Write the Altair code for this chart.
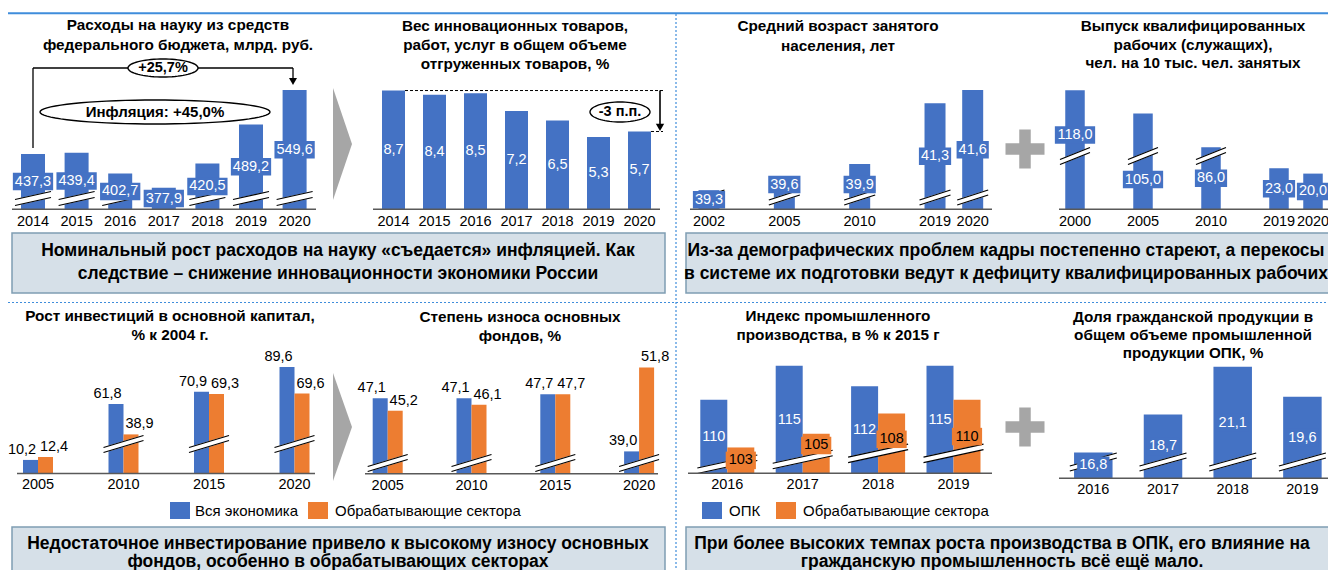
import math
import numpy as np
import pandas as pd
import altair as alt

# ------------------------------------------------------------------ data
science_years = ["2014", "2015", "2016", "2017", "2018", "2019", "2020"]
science_budget = [437.3, 439.4, 402.7, 377.9, 420.5, 489.2, 549.6]
innov_years = ["2014", "2015", "2016", "2017", "2018", "2019", "2020"]
innov_share = [8.7, 8.4, 8.5, 7.2, 6.5, 5.3, 5.7]
age_years = ["2002", "2005", "2010", "2019", "2020"]
age_values = [39.3, 39.6, 39.9, 41.3, 41.6]
grad_years = ["2000", "2005", "2010", "2019", "2020"]
grad_values = [118.0, 105.0, 86.0, 23.0, 20.0]
invest_years = ["2005", "2010", "2015", "2020"]
invest_total = [10.2, 61.8, 70.9, 89.6]
invest_manuf = [12.4, 38.9, 69.3, 69.6]
wear_years = ["2005", "2010", "2015", "2020"]
wear_total = [47.1, 47.1, 47.7, 39.0]
wear_manuf = [45.2, 46.1, 47.7, 51.8]
prod_years = ["2016", "2017", "2018", "2019"]
prod_opk = [110, 115, 112, 115]
prod_manuf = [103, 105, 108, 110]
civil_years = ["2016", "2017", "2018", "2019"]
civil_share = [16.8, 18.7, 21.1, 19.6]

legend_invest = ["Вся экономика", "Обрабатывающие сектора"]
legend_prod = ["ОПК", "Обрабатывающие сектора"]

title_science = ["Расходы на науку из средств", "федерального бюджета, млрд. руб."]
title_innov = ["Вес инновационных товаров,", "работ, услуг в общем объеме", "отгруженных товаров, %"]
title_age = ["Средний возраст занятого", "населения, лет"]
title_grad = ["Выпуск квалифицированных", "рабочих (служащих),", "чел. на 10 тыс. чел. занятых"]
title_invest = ["Рост инвестиций в основной капитал,", "% к 2004 г."]
title_wear = ["Степень износа основных", "фондов, %"]
title_prod = ["Индекс промышленного", "производства, в % к 2015 г"]
title_civil = ["Доля гражданской продукции в", "общем объеме промышленной", "продукции ОПК, %"]

note_1 = ["Номинальный рост расходов на науку «съедается» инфляцией. Как",
          "следствие – снижение инновационности экономики России"]
note_2 = ["Из-за демографических проблем кадры постепенно стареют, а перекосы",
          "в системе их подготовки ведут к дефициту квалифицированных рабочих"]
note_3 = ["Недостаточное инвестирование привело к высокому износу основных",
          "фондов, особенно в обрабатывающих секторах"]
note_4 = ["При более высоких темпах роста производства в ОПК, его влияние на",
          "гражданскую промышленность всё ещё мало."]

callout_growth = "+25,7%"
callout_inflation = "Инфляция: +45,0%"
callout_drop = "-3 п.п."

# ------------------------------------------------------------------ style
FONT = "Liberation Sans"
BLUE = "#4472c4"
ORANGE = "#ed7d31"
AXIS = "#595959"
SEP = "#3f8ddb"
NOTE_FILL = "#d6e0e8"
NOTE_STROKE = "#7f9db3"
GREY = "#a6a6a6"
OX, OY = 8, 8
VAL_FS = 14.5
TITLE_FS = 15.3
NOTE_FS = 17.5
BOX_H = 17.5
DUMMY = pd.DataFrame({"d": [0]})


def fmt(v, digits=1):
    return f"{v:.{digits}f}".replace(".", ",")


def text_w(s, fs=VAL_FS):
    return sum(0.278 if ch in ",." else 0.556 for ch in s) * fs


class Panel:
    def __init__(self, c0, step, base, k, baseline):
        self.c0, self.step, self.base, self.k, self.baseline = c0, step, base, k, baseline
        self.xs = alt.Scale(domain=[0, 1], range=[c0 - OX, c0 + step - OX], nice=False, zero=False)
        self.ys = alt.Scale(domain=[base, base + 1], range=[baseline - OY, baseline - k - OY],
                            nice=False, zero=False)

    def X(self, f):
        return alt.X(f + ":Q", scale=self.xs, axis=None)

    def Y(self, f):
        return alt.Y(f + ":Q", scale=self.ys, axis=None)

    def xu(self, px):
        return px / self.step

    def yv(self, py):
        return self.base + (self.baseline - py) / self.k

    def ypx(self, v):
        return self.baseline - (v - self.base) * self.k


def bar_layer(P, df, color):
    return alt.Chart(df).mark_bar(color=color).encode(
        x=P.X("x0"), x2=alt.X2("x1"), y=P.Y("d"), y2=alt.Y2("yb"))


def break_layers(P, df, width, rise, gap):
    enc = dict(x=P.X("bpos"), x2=alt.X2("bpos"), y=P.Y("brk"), y2=alt.Y2("brk"))
    h, r, g = width / 2, rise / 2, gap / 2
    out = [alt.Chart(df).mark_rule(color="white", strokeWidth=gap + 0.6, strokeCap="butt",
                                   xOffset=-h, x2Offset=h, yOffset=r, y2Offset=-r).encode(**enc)]
    for s in (-1, 1):
        out.append(alt.Chart(df).mark_rule(color="black", strokeWidth=1.2, strokeCap="butt",
                                           xOffset=-h, x2Offset=h, yOffset=r + s * g,
                                           y2Offset=-r + s * g).encode(**enc))
    return out


def add_boxes(P, df, xcol, extra=4):
    bw = np.array([text_w(t) + extra for t in df["txt"]])
    df["bx0"] = df[xcol].to_numpy() - bw / 2 / P.step
    df["bx1"] = df[xcol].to_numpy() + bw / 2 / P.step
    df["by0"] = df["lab"] - (BOX_H / 2) / P.k
    df["by1"] = df["lab"] + (BOX_H / 2) / P.k
    return df


def box_layer(P, df, color):
    return alt.Chart(df).mark_rect(color=color).encode(
        x=P.X("bx0"), x2=alt.X2("bx1"), y=P.Y("by0"), y2=alt.Y2("by1"))


def text_layer(P, df, xf, yf, tf, color, dx=0, dy=0, baseline="middle", size=VAL_FS):
    return alt.Chart(df).mark_text(font=FONT, fontSize=size, color=color, dx=dx, dy=dy,
                                   baseline=baseline, align="center").encode(
        x=P.X(xf), y=P.Y(yf), text=alt.Text(tf + ":N"))


def base_layer(P, x_from, x_to):
    d = pd.DataFrame({"yb": [P.base]})
    return alt.Chart(d).mark_rule(color=AXIS, strokeWidth=1.6).encode(
        x=alt.value(x_from - OX), x2=alt.value(x_to - OX), y=P.Y("yb"))


# ---------------------------------------------------------- decorations
def v_rect(x0, y0, x1, y1, **kw):
    return alt.Chart(DUMMY).mark_rect(**kw).encode(
        x=alt.value(x0 - OX), x2=alt.value(x1 - OX), y=alt.value(y0 - OY), y2=alt.value(y1 - OY))


def v_line(x0, y0, x1, y1, **kw):
    return alt.Chart(DUMMY).mark_rule(**kw).encode(
        x=alt.value(x0 - OX), x2=alt.value(x1 - OX), y=alt.value(y0 - OY), y2=alt.value(y1 - OY))


def v_shape(cx, cy, shape, size, **kw):
    return alt.Chart(DUMMY).mark_point(shape=shape, size=size, opacity=1, filled=True, **kw).encode(
        x=alt.value(cx - OX), y=alt.value(cy - OY))


def v_text(cx, cy, text, size=14, bold=False, align="center", color="black", lh=19):
    # cy is the centre of the first line
    return alt.Chart(DUMMY).mark_text(text=text, font=FONT, fontSize=size,
                                      fontWeight="bold" if bold else "normal", align=align,
                                      baseline="middle", color=color, lineHeight=lh).encode(
        x=alt.value(cx - OX), y=alt.value(cy - OY))


def ellipse_path(ratio, n=72):
    pts = [(math.cos(2 * math.pi * i / n), ratio * math.sin(2 * math.pi * i / n)) for i in range(n)]
    return "M" + " L".join(f"{x:.4f},{y:.4f}" for x, y in pts) + " Z"


def ellipse(cx, cy, w, h):
    return v_shape(cx, cy, ellipse_path(h / w), w * w, fill="white", stroke="black", strokeWidth=1.4)


def chevron(cx, cy, w, h):
    a = w / h
    return v_shape(cx, cy, f"M{-a:.4f},-1 L{a:.4f},0 L{-a:.4f},1 Z", h * h, fill=GREY, strokeWidth=0)


def plus(cx, cy, s, t):
    q = t / s
    p = (f"M{-q},-1 L{q},-1 L{q},{-q} L1,{-q} L1,{q} L{q},{q} L{q},1 L{-q},1 "
         f"L{-q},{q} L-1,{q} L-1,{-q} L{-q},{-q} Z")
    return v_shape(cx, cy, p, s * s, fill=GREY, strokeWidth=0)


# ------------------------------------------------------------ builders
def build_single(P, years, vals, slots, bar_w, base_x, year_dy, *, digits=1, disp=None,
                 brk_px=None, brk_mask=None, brk_geom=None, boxed=True, label_rule=None):
    disp = list(vals) if disp is None else list(disp)
    tops = [P.ypx(d) for d in disp]
    mids = [(t + P.baseline) / 2 for t in tops]
    lab_px = [label_rule(m, t) for m, t in zip(mids, tops)] if label_rule else mids
    df = pd.DataFrame({"year": years, "pos": slots, "d": disp,
                       "txt": [fmt(v, digits) for v in vals]})
    df["x0"] = df["pos"] - P.xu(bar_w / 2)
    df["x1"] = df["pos"] + P.xu(bar_w / 2)
    df["yb"] = P.base
    df["lab"] = [P.yv(p) for p in lab_px]
    df = add_boxes(P, df, "pos")
    layers = [bar_layer(P, df, BLUE)]
    if brk_px is not None:
        mask = brk_mask if brk_mask is not None else [True] * len(vals)
        bdf = df[mask].copy()
        bdf["bpos"] = bdf["pos"]
        bdf["brk"] = P.yv(brk_px)
        layers += break_layers(P, bdf, *brk_geom)
    if boxed:
        layers.append(box_layer(P, df, BLUE))
    layers.append(text_layer(P, df, "pos", "lab", "txt", "white"))
    layers.append(text_layer(P, df, "pos", "yb", "year", "black", dy=year_dy))
    layers.append(base_layer(P, *base_x))
    return alt.layer(*layers)


def grouped_frames(P, years, a, b, bar_w, disp_fn, digits):
    rows = []
    hw = P.xu(bar_w / 2)
    for i, (yr, va, vb) in enumerate(zip(years, a, b)):
        for s, v, sign in (("a", va, -1), ("b", vb, 1)):
            c = i + sign * hw
            rows.append(dict(year=yr, pos=i, s=s, v=v, d=disp_fn(v), c=c, x0=c - hw, x1=c + hw,
                             yb=P.base, txt=fmt(v, digits)))
    df = pd.DataFrame(rows)
    g = pd.DataFrame({"year": years, "pos": list(range(len(years))), "yb": P.base})
    return df, g


def build_grouped_above(P, years, a, b, bar_w, base_x, year_dy, brk_px, brk_mask, brk_geom,
                        disp_fn=lambda v: v):
    df, g = grouped_frames(P, years, a, b, bar_w, disp_fn, 1)
    da, db = df[df.s == "a"], df[df.s == "b"]
    layers = [bar_layer(P, da, BLUE), bar_layer(P, db, ORANGE)]
    bdf = g[brk_mask].copy()
    bdf["bpos"] = bdf["pos"]
    bdf["brk"] = P.yv(brk_px)
    layers += break_layers(P, bdf, *brk_geom)
    layers.append(text_layer(P, da, "c", "d", "txt", "black", dx=-8.5, dy=-3, baseline="bottom"))
    layers.append(text_layer(P, db, "c", "d", "txt", "black", dx=8.5, dy=-3, baseline="bottom"))
    layers.append(text_layer(P, g, "pos", "yb", "year", "black", dy=year_dy))
    layers.append(base_layer(P, *base_x))
    return alt.layer(*layers)


# ------------------------------------------------------------- panels
P1 = Panel(33, 43.6, 340, 0.569, 209.3)
panel1 = build_single(P1, science_years, science_budget, list(range(7)), 24, (12, 316), 12.3,
                      brk_px=198.5, brk_geom=(36, 8, 6))

P2 = Panel(393.5, 41, 0, 13.65, 209.3)
panel2 = build_single(P2, innov_years, innov_share, list(range(7)), 23, (373, 660), 12.3,
                      boxed=False)

P3 = Panel(709, 37.67, 38.86, 43.5, 209.3)
B3 = 197.5
panel3 = build_single(P3, age_years, age_values, [0, 2, 4, 6, 7], 21, (690, 992), 12.3,
                      brk_px=B3, brk_geom=(31, 10, 5),
                      label_rule=lambda m, t: m if t > B3 - 8 else min(m, B3 - 13))

P4 = Panel(1075, 34, 0, 1.785, 209.3)
B4 = 156
CUT4 = 51.3
disp4 = [v - CUT4 if v > 50 else v for v in grad_values]
panel4 = build_single(P4, grad_years, grad_values, [0, 2, 4, 6, 7], 19.5, (1059, 1345), 12.3,
                      disp=disp4, brk_px=B4, brk_mask=[v > 50 for v in grad_values],
                      brk_geom=(30, 12, 5),
                      label_rule=lambda m, t: (B4 - 21 if m < B4 else B4 + 23.5) if abs(m - B4) < 12 else m)

P5 = Panel(38, 85.5, 0, 1.33, 473.5)
CUT5 = 9.5
panel5 = build_grouped_above(P5, invest_years, invest_total, invest_manuf, 15, (17, 315), 11.7,
                             444, [max(x, y) > 20 for x, y in zip(invest_total, invest_manuf)],
                             (40, 12, 5), disp_fn=lambda v: v - CUT5 if v > 20 else v)

P6 = Panel(387.7, 83.8, 35.6, 6.56, 473.7)
panel6 = build_grouped_above(P6, wear_years, wear_total, wear_manuf, 15, (365, 658), 12.3,
                             463, [True] * 4, (40, 12, 5))

P7 = Panel(727.3, 75.4, 99.2, 6.8, 473.3)
df7, g7 = grouped_frames(P7, prod_years, prod_opk, prod_manuf, 27, lambda v: v, 0)
brk7_px = []
for i in range(len(prod_years)):
    hs = [P7.baseline - P7.ypx(v) for v in df7[df7.pos == i]["d"]]
    brk7_px.append(P7.baseline - min(20, 0.35 * min(hs)))
g7["bpos"] = g7["pos"]
g7["brk"] = [P7.yv(p) for p in brk7_px]
lab7 = []
for _, r in df7.iterrows():
    top = P7.ypx(r["d"])
    mid = (top + P7.baseline) / 2
    bpx = brk7_px[int(r["pos"])]
    if r["s"] == "b" and P7.baseline - top >= 35 and abs(mid - bpx) < 12:
        mid = bpx - 14
    lab7.append(P7.yv(mid))
df7["lab"] = lab7
df7 = add_boxes(P7, df7, "c", extra=6)
d7a, d7b = df7[df7.s == "a"], df7[df7.s == "b"]
panel7 = alt.layer(
    bar_layer(P7, d7a, BLUE), bar_layer(P7, d7b, ORANGE),
    *break_layers(P7, g7, 60, 13, 5.5),
    box_layer(P7, d7b, ORANGE),
    text_layer(P7, d7a, "c", "lab", "txt", "white"),
    text_layer(P7, d7b, "c", "lab", "txt", "black"),
    text_layer(P7, g7, "pos", "yb", "year", "black", dy=11.7),
    base_layer(P7, 688, 992),
)

P8 = Panel(1093.3, 69.7, 15.5, 19.9, 478.3)
panel8 = build_single(P8, civil_years, civil_share, list(range(4)), 38.5, (1059, 1345), 11.7,
                      brk_px=462, brk_geom=(47, 13, 5))

# ------------------------------------------------------ annotations
annot1 = [
    v_line(33, 148, 33, 68, color="black", strokeWidth=1.3),
    v_line(33, 68, 293, 68, color="black", strokeWidth=1.3),
    v_line(293, 68, 293, 80, color="black", strokeWidth=1.3),
    v_shape(293, 81.5, "triangle-down", 64, fill="black", strokeWidth=0),
    ellipse(163, 68, 70, 18),
    v_text(163, 68, callout_growth, size=14.5, bold=True),
    ellipse(155, 112, 230, 24),
    v_text(155, 112, callout_inflation, size=15, bold=True),
]
ya = P2.ypx(innov_share[0])
yb = P2.ypx(innov_share[-1])
annot2 = [
    v_line(405, ya, 663, ya, color="black", strokeWidth=1, strokeDash=[3, 2]),
    v_line(651, yb, 663, yb, color="black", strokeWidth=1, strokeDash=[3, 2]),
    v_line(660, ya, 660, yb - 6, color="black", strokeWidth=1.6),
    v_shape(660, yb - 4, "triangle-down", 70, fill="black", strokeWidth=0),
    ellipse(620, 112, 60, 20),
    v_text(620, 112, callout_drop, size=14.5, bold=True),
]

decor = [
    v_line(8, 13.3, 1345, 13.3, color=SEP, strokeWidth=2),
    v_line(676, 14, 676, 600, color=SEP, strokeWidth=1.2, strokeDash=[2, 2]),
    v_line(8, 302.5, 1345, 302.5, color=SEP, strokeWidth=1.2, strokeDash=[2, 2]),
    v_rect(12, 233, 665, 293, fill=NOTE_FILL, stroke=NOTE_STROKE, strokeWidth=1.5),
    v_rect(686, 233, 1345, 293, fill=NOTE_FILL, stroke=NOTE_STROKE, strokeWidth=1.5),
    v_rect(12, 527, 665, 600, fill=NOTE_FILL, stroke=NOTE_STROKE, strokeWidth=1.5),
    v_rect(686, 527, 1345, 600, fill=NOTE_FILL, stroke=NOTE_STROKE, strokeWidth=1.5),
    v_text(338, 251, note_1, size=NOTE_FS, bold=True, lh=23),
    v_text(1006, 251, note_2, size=NOTE_FS, bold=True, lh=23),
    v_text(338, 544, note_3, size=NOTE_FS, bold=True, lh=18),
    v_text(1002, 544, note_4, size=NOTE_FS, bold=True, lh=18),
    chevron(342.5, 144, 19, 112),
    chevron(342.5, 427, 19, 108),
    plus(1025, 149, 39, 11.5),
    plus(1025, 427, 39, 11.5),
    v_text(178, 25, title_science, size=TITLE_FS, bold=True, lh=20),
    v_text(515, 26, title_innov, size=TITLE_FS, bold=True, lh=18.8),
    v_text(838, 26, title_age, size=TITLE_FS, bold=True, lh=19.5),
    v_text(1193, 26, title_grad, size=TITLE_FS, bold=True, lh=18.7),
    v_text(170, 316, title_invest, size=TITLE_FS, bold=True, lh=19),
    v_text(520, 317, title_wear, size=TITLE_FS, bold=True, lh=18.5),
    v_text(838, 316, title_prod, size=TITLE_FS, bold=True, lh=19),
    v_text(1193, 316.7, title_civil, size=TITLE_FS, bold=True, lh=18.3),
    # legends
    v_rect(170, 502, 190, 519, fill=BLUE),
    v_text(195, 510.5, legend_invest[0], size=15, align="left"),
    v_rect(308, 502, 328, 519, fill=ORANGE),
    v_text(335, 510.5, legend_invest[1], size=15, align="left"),
    v_rect(702, 502, 722, 519, fill=BLUE),
    v_text(729, 510.5, legend_prod[0], size=15, align="left"),
    v_rect(776, 502, 796, 519, fill=ORANGE),
    v_text(803, 510.5, legend_prod[1], size=15, align="left"),
]

chart = alt.layer(
    *decor, panel1, panel2, panel3, panel4, panel5, panel6, panel7, panel8, *annot1, *annot2
).resolve_scale(x="independent", y="independent").properties(
    width=1320, height=562, padding=0, autosize=alt.AutoSizeParams(type="none")
).configure_view(stroke=None)

chart.save("out.html", embed_options={"renderer": "svg", "actions": False})
